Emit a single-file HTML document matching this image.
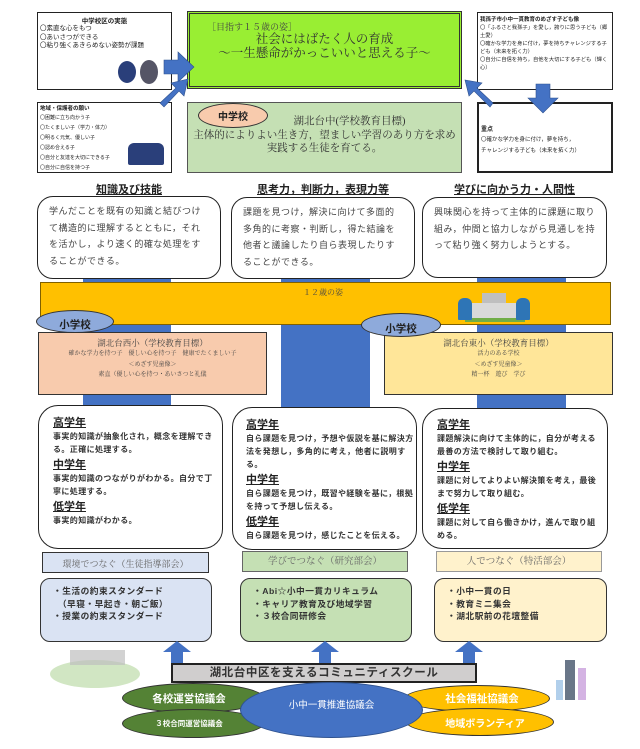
<!DOCTYPE html>
<html><head><meta charset="utf-8"><style>
*{margin:0;padding:0;box-sizing:border-box}
body{width:640px;height:749px;background:#fff;position:relative;overflow:hidden;font-family:"Liberation Sans","Noto Sans CJK JP",sans-serif;color:#222}
.a{position:absolute}
.box{position:absolute;border:1px solid #222;background:#fff}
.rb{position:absolute;border:1.3px solid #222;border-radius:16px;background:#fff}
.bar{position:absolute;background:#4472c4}
.serif{font-family:"Liberation Serif","Noto Serif CJK SC",serif}
.hd{font-size:11px;font-weight:bold;text-decoration:underline;line-height:14px}
.bd{font-size:8px;line-height:13px;font-weight:bold;color:#333;letter-spacing:0.4px}
.ell{position:absolute;border-radius:50%;border:1px solid #333;color:#fff;font-weight:bold;display:flex;align-items:center;justify-content:center}
.up{font-size:9px;line-height:16.7px;color:#444;letter-spacing:0.5px;width:158px}
</style></head><body>

<div class="box" style="left:37px;top:12px;width:135px;height:78px;border-width:1.5px">
 <div style="font-size:6.5px;font-weight:bold;text-align:center;margin-top:2px">中学校区の実態</div>
 <div style="font-size:6.5px;line-height:8.5px;padding-left:2px">〇素直な心をもつ<br>〇あいさつができる<br>〇粘り強くあきらめない姿勢が課題</div>
 <div class="a" style="left:80px;top:48px;width:18px;height:22px;border-radius:50%;background:#2a3f7a"></div>
 <div class="a" style="left:102px;top:47px;width:18px;height:24px;border-radius:50%;background:#556"></div>
</div>
<div class="a" style="left:187px;top:11px;width:275px;height:78px;border:1.5px solid #333;background:#99ee33;padding:1px">
 <div style="border:1.5px solid #333;height:100%;background:#99ee33"></div>
</div>
<div class="a serif" style="left:207px;top:20px;font-size:9px;color:#444">［目指す１５歳の姿］</div>
<div class="a serif" style="left:187px;top:32px;width:275px;text-align:center;font-size:12.5px;line-height:14px;color:#333">社会にはばたく人の育成<br>〜一生懸命がかっこいいと思える子〜</div>

<div class="box" style="left:477px;top:12px;width:136px;height:78px;border-width:1.5px">
 <div style="font-size:5.5px;font-weight:bold;margin:2px 2px 1px">我孫子市小中一貫教育のめざす子ども像</div>
 <div style="font-size:5.3px;line-height:8px;padding-left:2px">〇「ふるさと我孫子」を愛し，誇りに思う子ども（郷土愛）<br>〇確かな学力を身に付け，夢を持ちチャレンジする子ども（未来を拓く力）<br>〇自分に自信を持ち，自他を大切にする子ども（輝く心）</div>
</div>

<div class="box" style="left:37px;top:102px;width:135px;height:71px;border-width:1.5px">
 <div style="font-size:5.5px;font-weight:bold;margin:1px 2px">地域・保護者の願い</div>
 <div style="font-size:5px;line-height:10px;padding-left:2px">〇困難に立ち向かう子<br>〇たくましい子（学力・体力）<br>〇明るく元気、優しい子<br>〇認め合える子<br>〇自分と友達を大切にできる子<br>〇自分に自信を持つ子</div>
 <div class="a" style="left:90px;top:40px;width:36px;height:22px;background:#2a3f7a;border-radius:6px 6px 2px 2px"></div>
</div>
<div class="a" style="left:187px;top:102px;width:275px;height:71px;border:1px solid #555;background:#c5e0b4"></div>
<div class="a" style="left:198px;top:103px;width:70px;height:25px;border-radius:50%;background:#f8cbad;border:1px solid #333;font-size:10px;font-weight:bold;display:flex;align-items:center;justify-content:center">中学校</div>
<div class="a serif" style="left:187px;top:115px;width:275px;text-align:center;font-size:10.5px;line-height:13.5px;color:#333;white-space:nowrap"><span style="padding-left:50px">湖北台中(学校教育目標)</span><br>主体的によりよい生き方，望ましい学習のあり方を求め<br>実践する生徒を育てる。</div>

<div class="box" style="left:477px;top:102px;width:136px;height:71px;border-width:2.5px">
 <div style="font-size:6px;font-weight:bold;margin:20px 2px 2px">重点</div>
 <div style="font-size:5.5px;line-height:11px;padding-left:2px">〇確かな学力を身に付け，夢を持ち，<br>チャレンジする子ども（未来を拓く力）</div>
</div>

<svg class="a" style="left:0;top:0" width="640" height="180">
 <polygon points="164,60 178,60 178,52 194,67 178,82 178,74 164,74" fill="#4472c4" stroke="#2f528f" stroke-width="0.6"/>
 <polygon points="160,103 176,88 171,83 188,79 184,96 179,91 164,107" fill="#4472c4" stroke="#2f528f" stroke-width="0.6"/>
 <polygon points="490,107 474,91 469,96 465,80 482,83 477,88 493,103" fill="#4472c4" stroke="#2f528f" stroke-width="0.6"/>
 <polygon points="536,84 550,84 550,98 558,98 543,113 528,98 536,98" fill="#4472c4" stroke="#2f528f" stroke-width="0.6"/>
</svg>

<div class="a" style="left:37px;top:181px;width:184px;text-align:center;font-size:11px;font-weight:bold;text-decoration:underline">知識及び技能</div>
<div class="a" style="left:231px;top:181px;width:184px;text-align:center;font-size:11px;font-weight:bold;text-decoration:underline">思考力，判断力，表現力等</div>
<div class="a" style="left:422px;top:181px;width:185px;text-align:center;font-size:11px;font-weight:bold;text-decoration:underline">学びに向かう力・人間性</div>

<div class="bar" style="left:83px;top:270px;width:88px;height:140px"></div>
<div class="bar" style="left:281px;top:270px;width:89px;height:140px"></div>
<div class="bar" style="left:477px;top:270px;width:89px;height:140px"></div>

<div class="rb" style="left:37px;top:196px;width:184px;height:83px"></div>
<div class="rb" style="left:231px;top:197px;width:184px;height:82px"></div>
<div class="rb" style="left:422px;top:197px;width:185px;height:81px"></div>
<div class="a up" style="left:49px;top:203px">学んだことを既有の知識と結びつけて構造的に理解するとともに，それを活かし，より速く的確な処理をすることができる。</div>
<div class="a up" style="left:243px;top:204px">課題を見つけ，解決に向けて多面的多角的に考察・判断し，得た結論を他者と議論したり自ら表現したりすることができる。</div>
<div class="a up" style="left:434px;top:204px;width:162px">興味関心を持って主体的に課題に取り組み，仲間と協力しながら見通しを持って粘り強く努力しようとする。</div>

<div class="a" style="left:40px;top:282px;width:571px;height:43px;background:#ffc000;border:1.3px solid #7f6000"></div>
<div class="a serif" style="left:303px;top:287px;font-size:8px;color:#444">１２歳の姿</div>
<div class="a" style="left:482px;top:293px;width:24px;height:26px;background:#bfbfbf"></div>
<div class="a" style="left:470px;top:303px;width:48px;height:16px;background:#d9d9d9"></div>
<div class="a" style="left:465px;top:318px;width:60px;height:4px;background:#70ad47"></div>
<div class="a" style="left:458px;top:298px;width:14px;height:22px;background:#2e75b6;border-radius:6px 6px 1px 1px"></div>
<div class="a" style="left:516px;top:298px;width:14px;height:22px;background:#2e75b6;border-radius:6px 6px 1px 1px"></div>

<div class="a" style="left:38px;top:332px;width:229px;height:63px;background:#f8cbad;border:1.5px solid #333"></div>
<div class="a" style="left:384px;top:332px;width:229px;height:63px;background:#ffe699;border:1.5px solid #333"></div>
<div class="a serif" style="left:38px;top:337px;width:229px;text-align:center;color:#444">
 <div style="font-size:8.5px;line-height:12px">湖北台西小（学校教育目標）</div>
 <div style="font-size:6px;line-height:10.5px">確かな学力を持つ子　優しい心を持つ子　健康でたくましい子<br>＜めざす児童像＞<br>素直（優しい心を持つ・あいさつと礼儀</div>
</div>
<div class="a serif" style="left:384px;top:337px;width:229px;text-align:center;color:#444">
 <div style="font-size:8.5px;line-height:12px">湖北台東小（学校教育目標）</div>
 <div style="font-size:6px;line-height:10.5px">活力のある学校<br>＜めざす児童像＞<br>精一杯　遊び　学び</div>
</div>
<div class="a" style="left:36px;top:310px;width:78px;height:23px;border-radius:50%;background:#8eaadb;border:1.2px solid #333;font-size:10.5px;font-weight:bold;display:flex;align-items:center;justify-content:center;padding-top:6px">小学校</div>
<div class="a" style="left:361px;top:313px;width:80px;height:24px;border-radius:50%;background:#8eaadb;border:1.2px solid #333;font-size:10.5px;font-weight:bold;display:flex;align-items:center;justify-content:center;padding-top:6px">小学校</div>

<div class="rb" style="left:38px;top:405px;width:185px;height:144px;border-radius:20px"></div>
<div class="rb" style="left:232px;top:407px;width:185px;height:143px;border-radius:20px"></div>
<div class="rb" style="left:422px;top:408px;width:186px;height:141px;border-radius:20px"></div>
<div class="a" style="left:53px;top:416px;width:166px">
 <div class="hd">高学年</div><div class="bd">事実的知識が抽象化され，概念を理解できる。正確に処理する。</div>
 <div class="hd" style="margin-top:2px">中学年</div><div class="bd">事実的知識のつながりがわかる。自分で丁寧に処理する。</div>
 <div class="hd" style="margin-top:2px">低学年</div><div class="bd">事実的知識がわかる。</div>
</div>
<div class="a" style="left:246px;top:418px;width:168px">
 <div class="hd">高学年</div><div class="bd">自ら課題を見つけ，予想や仮説を基に解決方法を発想し，多角的に考え，他者に説明する。</div>
 <div class="hd" style="margin-top:2px">中学年</div><div class="bd">自ら課題を見つけ，既習や経験を基に，根拠を持って予想し伝える。</div>
 <div class="hd" style="margin-top:2px">低学年</div><div class="bd">自ら課題を見つけ，感じたことを伝える。</div>
</div>
<div class="a" style="left:437px;top:418px;width:164px">
 <div class="hd">高学年</div><div class="bd">課題解決に向けて主体的に，自分が考える最善の方法で検討して取り組む。</div>
 <div class="hd" style="margin-top:2px">中学年</div><div class="bd">課題に対してよりよい解決策を考え，最後まで努力して取り組む。</div>
 <div class="hd" style="margin-top:2px">低学年</div><div class="bd">課題に対して自ら働きかけ，進んで取り組める。</div>
</div>

<div class="a serif" style="left:42px;top:552px;width:167px;height:21px;background:#dae3f3;border:1.2px solid #333;font-size:9px;color:#666;text-align:center;line-height:22px">環境でつなぐ（生徒指導部会）</div>
<div class="a serif" style="left:242px;top:551px;width:166px;height:21px;background:#c5e0b4;border:1px solid #666;font-size:9.5px;color:#666;text-align:center;line-height:21px">学びでつなぐ（研究部会）</div>
<div class="a serif" style="left:436px;top:551px;width:166px;height:21px;background:#fff2cc;border:1px solid #999;font-size:9.5px;color:#666;text-align:center;line-height:21px">人でつなぐ（特活部会）</div>

<div class="a" style="left:40px;top:578px;width:172px;height:64px;background:#dae3f3;border:1.2px solid #333;border-radius:10px;font-size:8.7px;font-weight:bold;line-height:12.5px;padding:6px 0 0 12px;color:#333;letter-spacing:0.5px">・生活の約束スタンダード<br>　（早寝・早起き・朝ご飯）<br>・授業の約束スタンダード</div>
<div class="a" style="left:240px;top:578px;width:172px;height:64px;background:#c5e0b4;border:1.2px solid #333;border-radius:10px;font-size:8.7px;font-weight:bold;line-height:12.5px;padding:6px 0 0 12px;color:#333;letter-spacing:0.5px">・Abi☆小中一貫カリキュラム<br>・キャリア教育及び地域学習<br>・３校合同研修会</div>
<div class="a" style="left:434px;top:578px;width:173px;height:64px;background:#fff2cc;border:1.2px solid #333;border-radius:10px;font-size:8.7px;font-weight:bold;line-height:12.5px;padding:6px 0 0 12px;color:#333;letter-spacing:0.5px">・小中一貫の日<br>・教育ミニ集会<br>・湖北駅前の花壇整備</div>

<svg class="a" style="left:0;top:640px" width="640" height="30">
 <polygon points="177,1 191,12 183,12 183,24 171,24 171,12 163,12" fill="#4472c4"/>
 <polygon points="325,1 339,12 331,12 331,24 319,24 319,12 311,12" fill="#4472c4"/>
 <polygon points="469,1 483,12 475,12 475,24 463,24 463,12 455,12" fill="#4472c4"/>
</svg>

<div class="a" style="left:50px;top:660px;width:90px;height:28px;border-radius:50%;background:#c5e0b4;opacity:.8"></div>
<div class="a" style="left:70px;top:650px;width:55px;height:15px;background:#bfbfbf;opacity:.7"></div>
<div class="a" style="left:565px;top:660px;width:10px;height:40px;background:#44546a;opacity:.8"></div>
<div class="a" style="left:578px;top:668px;width:8px;height:32px;background:#c9a0dc;opacity:.8"></div>
<div class="a" style="left:556px;top:680px;width:7px;height:20px;background:#9dc3e6;opacity:.8"></div>

<div class="a" style="left:171px;top:663px;width:306px;height:20px;background:#d0cece;border:2px solid #222;font-size:11.5px;font-weight:bold;color:#333;text-align:center;line-height:16px;letter-spacing:0.6px">湖北台中区を支えるコミュニティスクール</div>

<div class="ell" style="left:122px;top:683px;width:142px;height:30px;background:#548235;font-size:10.5px;padding-right:8px">各校運営協議会</div>
<div class="ell" style="left:122px;top:709px;width:142px;height:29px;background:#548235;font-size:7.5px;padding-right:8px">３校合同運営協議会</div>
<div class="ell" style="left:404px;top:685px;width:146px;height:27px;background:#ffc000;font-size:10.5px;padding-left:10px">社会福祉協議会</div>
<div class="ell" style="left:406px;top:708px;width:148px;height:28px;background:#ffc000;font-size:10px;padding-left:10px">地域ボランティア</div>
<div class="ell" style="left:240px;top:682px;width:183px;height:56px;background:#4472c4;font-size:9.5px;font-weight:normal;align-items:flex-start;padding-top:14px;border-color:#2f528f">小中一貫推進協議会</div>

</body></html>
